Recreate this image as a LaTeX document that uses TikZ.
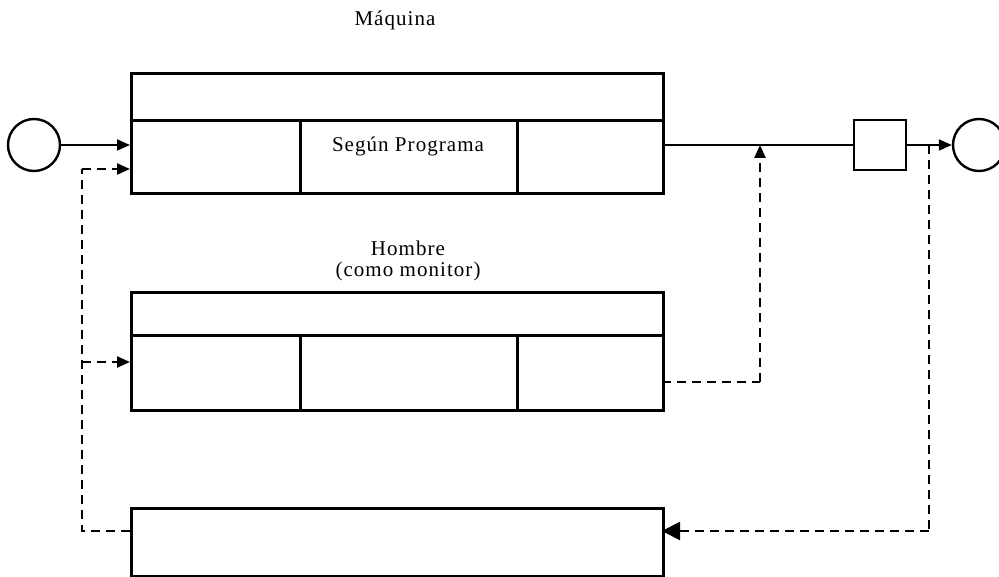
\documentclass[tikz,border=0pt]{standalone}
\usepackage{fontspec}
\setmainfont{Liberation Serif}[LetterSpace=5]
\usetikzlibrary{arrows.meta}
\begin{document}
\begin{tikzpicture}[x=1pt,y=-1pt,
  boxline/.style={line width=3pt},
  conn/.style={line width=1.8pt},
  dconn/.style={line width=2.4pt,dash pattern=on 9pt off 6pt},
  tip/.style={-{Triangle[length=13pt,width=11pt]}},
  bigtip/.style={-{Triangle[length=18pt,width=18pt]}},
  lbl/.style={font=\fontsize{21}{25}\selectfont,inner sep=0pt}]
\useasboundingbox (0,0) rectangle (999,577);
% Maquina box
\node[draw,boxline,minimum width=532pt,minimum height=120pt,inner sep=0pt,anchor=north west] (maq) at (130,72) {};
\draw[boxline] (130,121) -- (662,121);
\draw[boxline] (300,121) -- (300,192);
\draw[boxline] (517,121) -- (517,192);
\node[lbl] (maqlbl) at (395,20) {Máquina};
\node[lbl] (prog) at (408,146) {Según Programa};
% Hombre box
\node[draw,boxline,minimum width=532pt,minimum height=118pt,inner sep=0pt,anchor=north west] (hom) at (130,291) {};
\draw[boxline] (130,336) -- (662,336);
\draw[boxline] (300,336) -- (300,409);
\draw[boxline] (517,336) -- (517,409);
\node[lbl,align=center] (homlbl) at (408,261) {Hombre\\[-4pt](como monitor)};
% bottom box
\node[draw,boxline,minimum width=532pt,minimum height=68pt,inner sep=0pt,anchor=north west] (bot) at (130,507) {};
% circles and square
\node[draw,circle,line width=2.4pt,minimum size=52pt,inner sep=0pt] (cin) at (34,145) {};
\node[draw,circle,line width=2.4pt,minimum size=52pt,inner sep=0pt] (cout) at (979,145) {};
\node[draw,line width=2.8pt,minimum width=52pt,minimum height=50pt,inner sep=0pt] (sq) at (880,145) {};
% coordinates
\coordinate (min) at (130,145);
\coordinate (mfb) at (130,169);
\coordinate (mout) at (662,145);
\coordinate (hin) at (130,362);
\coordinate (hout) at (662,382);
\coordinate (bin) at (662,531);
\coordinate (bout) at (130,531);
\coordinate (j1) at (760,145);
\coordinate (j2) at (929,145);
\coordinate (lx) at (82,531);
% solid connectors
\draw[conn,tip] (cin) -- (min);
\draw[conn] (mout) -- (sq.west);
\draw[conn,tip] (sq.east) -- (cout.west);
% dashed connectors
\draw[dconn] (bout) -- (lx) -- (82,169);
\draw[dconn,tip] (82,169) -- (mfb);
\draw[dconn,tip] (82,362) -- (hin);
\draw[dconn] (hout) -- (760,382);
\draw[dconn,tip] (760,382) -- (j1);
\draw[dconn] (j2) -- (929,531);
\draw[dconn,bigtip] (929,531) -- (bin);
\end{tikzpicture}
\end{document}
